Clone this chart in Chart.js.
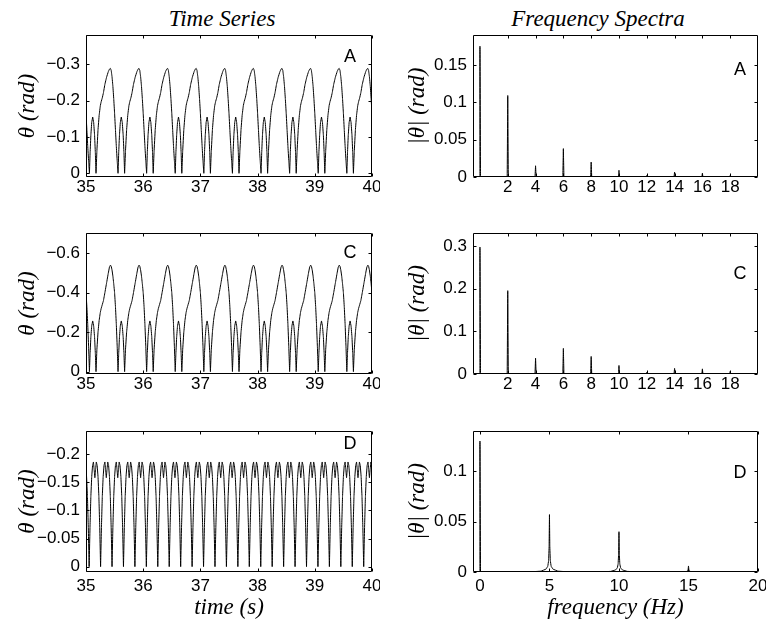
<!DOCTYPE html>
<html>
<head>
<meta charset="utf-8">
<title>Time series and spectra</title>
<script src="https://cdn.jsdelivr.net/npm/chart.js@4.4.0/dist/chart.umd.min.js"></script>
<style>
  body { margin: 0; background: #fff; }
  #fig { position: relative; width: 779px; height: 626px; background: #fff; overflow: hidden; }
  #fig canvas { position: absolute; }
  .ttl { position: absolute; top: 6px; line-height: 26px; font: italic 23px "Liberation Serif", serif;
         transform: translateX(-50%); white-space: nowrap; color: #000; }
</style>
</head>
<body>
<div id="fig">
  <div class="ttl" style="left:222px">Time Series</div>
  <div class="ttl" style="left:598px">Frequency Spectra</div>
  <canvas id="tA" style="left:0;top:29px" width="380" height="172"></canvas>
  <canvas id="fA" style="left:390px;top:29px" width="376" height="172"></canvas>
  <canvas id="tC" style="left:0;top:227px" width="380" height="171"></canvas>
  <canvas id="fC" style="left:390px;top:227px" width="376" height="171"></canvas>
  <canvas id="tD" style="left:0;top:425px" width="380" height="201"></canvas>
  <canvas id="fD" style="left:390px;top:425px" width="376" height="201"></canvas>
</div>

<script>
// time series: one period (phase in s, theta in rad), repeated
const periodAC = 0.5;
const zeroAC = 35.06;
const phaseAC = [0, 0.012, 0.025, 0.04, 0.057, 0.074, 0.09, 0.103, 0.115,
                 0.13, 0.15, 0.17, 0.19, 0.205, 0.225, 0.245, 0.27, 0.3, 0.33, 0.35, 0.367,
                 0.38, 0.395, 0.41, 0.425, 0.44, 0.455, 0.47, 0.485];
const thetaA = [0, -0.058, -0.105, -0.14, -0.155, -0.14, -0.105, -0.058, 0,
                -0.06, -0.12, -0.16, -0.186, -0.197, -0.208, -0.222, -0.245, -0.265, -0.28, -0.287, -0.289,
                -0.284, -0.266, -0.24, -0.205, -0.165, -0.12, -0.075, -0.035];
const thetaC = [0, -0.095, -0.175, -0.232, -0.257, -0.232, -0.175, -0.095, 0,
                -0.11, -0.2, -0.26, -0.3, -0.32, -0.34, -0.36, -0.4, -0.45, -0.5, -0.53, -0.54,
                -0.535, -0.515, -0.485, -0.445, -0.4, -0.33, -0.24, -0.13];
const periodD = 0.2;
const zeroD = 35.055;
const phaseD = [0, 0.015, 0.03, 0.045, 0.06, 0.075, 0.088, 0.1, 0.112, 0.125, 0.14, 0.155, 0.17, 0.185];
const thetaD = [0, -0.07, -0.125, -0.16, -0.18, -0.186, -0.172, -0.158, -0.172, -0.186, -0.18, -0.16, -0.125, -0.07];

// spectra: peak frequencies (Hz) and heights (rad)
const freqAC = [0, 2, 4, 6, 8, 10, 12, 14, 16, 18];
const ampA = [0.175, 0.109, 0.015, 0.038, 0.02, 0.009, 0.002, 0.0065, 0.005, 0.002];
const ampC = [0.297, 0.195, 0.037, 0.06, 0.041, 0.02, 0.004, 0.013, 0.012, 0.006];
const freqD = [0, 5, 10, 15];
const ampD = [0.13, 0.057, 0.04, 0.006];
// peak flanks: offset from the peak (Hz) and share of the peak height
const flankAC = [0.04];
const shareAC = [0];
const flankD = [0.025, 0.06, 0.12, 0.25, 0.6, 1.5];
const shareD = [0.45, 0.2, 0.1, 0.05, 0.015, 0];

// tick labels
const timeTicks = [35, 36, 37, 38, 39, 40];
const yTicksA = [-0.3, -0.2, -0.1, 0];
const yTicksC = [-0.6, -0.4, -0.2, 0];
const yTicksD = [-0.2, -0.15, -0.1, -0.05, 0];
const freqTicksAC = [2, 4, 6, 8, 10, 12, 14, 16, 18];
const freqTicksD = [0, 5, 10, 15, 20];
const specTicksA = [0, 0.05, 0.1, 0.15];
const specTicksC = [0, 0.1, 0.2, 0.3];
const specTicksD = [0, 0.05, 0.1];

function tile(zero, period, phase, theta) {
  const pts = [];
  for (let k = -2; zero + k * period < 40.2; k++) {
    phase.forEach((p, i) => {
      const t = zero + k * period + p;
      if (t > 34.8 && t < 40.2) pts.push({ x: t, y: theta[i] });
    });
  }
  return pts;
}

function spikes(freq, amp, flank, share) {
  const pts = [];
  freq.forEach((f, i) => {
    if (f > 0) {
      for (let j = flank.length - 1; j >= 0; j--) pts.push({ x: f - flank[j], y: amp[i] * share[j] });
      pts.push({ x: f, y: amp[i] });
      flank.forEach((o, j) => pts.push({ x: f + o, y: amp[i] * share[j] }));
    } else {
      pts.push({ x: 0, y: 0 }, { x: 0, y: amp[i] }, { x: 0.04, y: 0 });
    }
  });
  pts.push({ x: 20, y: 0 });
  return pts;
}

const tickFont = { family: '"Liberation Sans", Arial, sans-serif', size: 17 };
const serif = { family: '"Liberation Serif", serif', size: 23, style: 'italic' };
const fmt = v => (v < 0 ? '\u2212' + String(-v) : String(v));

const frame = {
  id: 'frame',
  afterDatasetsDraw(chart, args, opts) {
    const { ctx, chartArea: a, scales: { x, y } } = chart;
    const L = Math.round(a.left) + 0.5, R = Math.round(a.right) - 0.5;
    const T = Math.round(a.top) + 0.5, B = Math.round(a.bottom) - 0.5;
    const len = 3;
    ctx.save();
    ctx.strokeStyle = '#000';
    ctx.lineWidth = 1;
    ctx.beginPath();
    ctx.rect(L, T, R - L, B - T);
    x.ticks.forEach(t => {
      const px = Math.round(x.getPixelForValue(t.value)) + 0.5;
      ctx.moveTo(px, B); ctx.lineTo(px, B - len);
      ctx.moveTo(px, T); ctx.lineTo(px, T + len);
    });
    y.ticks.forEach(t => {
      const py = Math.round(y.getPixelForValue(t.value)) + 0.5;
      ctx.moveTo(L, py); ctx.lineTo(L + len, py);
      ctx.moveTo(R, py); ctx.lineTo(R - len, py);
    });
    ctx.stroke();
    ctx.fillStyle = '#000';
    ctx.font = '18px "Liberation Sans", Arial, sans-serif';
    ctx.textAlign = 'center';
    ctx.textBaseline = 'middle';
    ctx.fillText(opts.letter, a.left + opts.fx * (a.right - a.left), a.top + opts.fy * (a.bottom - a.top));
    ctx.restore();
  }
};

function makeChart(id, o) {
  new Chart(document.getElementById(id), {
    type: 'line',
    data: {
      datasets: [{
        data: o.data, borderColor: '#000', borderWidth: 1,
        pointRadius: 0, tension: 0.0001, fill: false
      }]
    },
    options: {
      responsive: false,
      animation: false,
      events: [],
      layout: { padding: { top: 6, right: 8, left: 0, bottom: 0 } },
      plugins: {
        legend: { display: false },
        tooltip: { enabled: false },
        frame: { letter: o.letter, fx: o.fx, fy: o.fy }
      },
      scales: {
        x: {
          type: 'linear', min: o.xmin, max: o.xmax,
          grid: { display: false, drawTicks: false }, border: { display: false },
          afterBuildTicks: s => { s.ticks = o.xticks.map(v => ({ value: v })); },
          afterFit: s => { s.height = o.bottom; s.paddingLeft = 0; s.paddingRight = 0; },
          ticks: { font: tickFont, color: '#000', padding: o.xpad, maxRotation: 0, autoSkip: false, callback: fmt },
          title: o.xtitle
            ? { display: true, text: o.xtitle, font: serif, color: '#000', padding: { top: 0, bottom: 4 } }
            : { display: false }
        },
        y: {
          type: 'linear', min: o.ymin, max: o.ymax, reverse: o.reverse,
          grid: { display: false, drawTicks: false }, border: { display: false },
          afterBuildTicks: s => { s.ticks = o.yticks.map(v => ({ value: v })); },
          afterFit: s => { s.width = o.left; s.paddingTop = 0; s.paddingBottom = 0; },
          ticks: { font: tickFont, color: '#000', padding: 6, autoSkip: false, callback: fmt },
          title: { display: true, text: o.ytitle, font: serif, color: '#000', padding: { top: 14, bottom: 0 } }
        }
      }
    },
    plugins: [frame]
  });
}

const timeCommon = { xmin: 35, xmax: 40, xticks: timeTicks, left: 86, reverse: true, ytitle: '\u03b8 (rad)', fx: 0.923 };
const specCommon = { xmin: -0.5, xmax: 20, left: 83, reverse: false, ymin: 0, ytitle: '|\u03b8| (rad)', fx: 0.937 };

makeChart('tA', Object.assign({}, timeCommon, {
  data: tile(zeroAC, periodAC, phaseAC, thetaA), ymin: -0.381, ymax: 0.0102, yticks: yTicksA,
  bottom: 24, xpad: 0, letter: 'A', fy: 0.155 }));
makeChart('tC', Object.assign({}, timeCommon, {
  data: tile(zeroAC, periodAC, phaseAC, thetaC), ymin: -0.703, ymax: 0.012, yticks: yTicksC,
  bottom: 24, xpad: 0, letter: 'C', fy: 0.142 }));
makeChart('tD', Object.assign({}, timeCommon, {
  data: tile(zeroD, periodD, phaseD, thetaD), ymin: -0.241, ymax: 0.0094, yticks: yTicksD,
  bottom: 54, xpad: 4, xtitle: 'time (s)', letter: 'D', fy: 0.092 }));

makeChart('fA', Object.assign({}, specCommon, {
  data: spikes(freqAC, ampA, flankAC, shareAC), ymax: 0.19, yticks: specTicksA, xticks: freqTicksAC,
  bottom: 24, xpad: 0, letter: 'A', fy: 0.246 }));
makeChart('fC', Object.assign({}, specCommon, {
  data: spikes(freqAC, ampC, flankAC, shareAC), ymax: 0.33, yticks: specTicksC, xticks: freqTicksAC,
  bottom: 24, xpad: 0, letter: 'C', fy: 0.29 }));
makeChart('fD', Object.assign({}, specCommon, {
  data: spikes(freqD, ampD, flankD, shareD), ymax: 0.14, yticks: specTicksD, xticks: freqTicksD,
  bottom: 54, xpad: 4, xtitle: 'frequency (Hz)', letter: 'D', fy: 0.298 }));
</script>
</body>
</html>
